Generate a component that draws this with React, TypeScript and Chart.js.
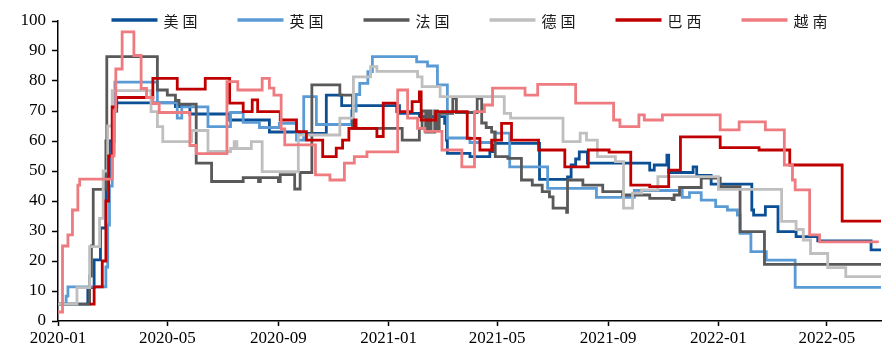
import React, { useEffect, useRef } from 'react';
import { Chart, registerables } from 'chart.js';

Chart.register(...registerables);

type Step = [string, number];

// Series names and colours, in legend order
const seriesNames = ['美国', '英国', '法国', '德国', '巴西', '越南'];
const seriesColors = ['#0B4F95', '#5B9BD5', '#595959', '#BFBFBF', '#C00000', '#EE7B7F'];

// X axis range and labelled months
const rangeStart = '2020-01-01';
const rangeEnd = '2022-06-30';
const tickMonths = ['2020-01', '2020-05', '2020-09', '2021-01', '2021-05', '2021-09', '2022-01', '2022-05'];

// Each entry: [date the index changes, new index value]
const usSteps: Step[] = [
  ['2020-01-01', 5.6], ['2020-02-03', 11.1], ['2020-02-10', 20.4], ['2020-02-17', 31], ['2020-02-23', 48],
  ['2020-02-27', 60], ['2020-03-03', 70], ['2020-03-06', 72.7], ['2020-05-10', 71.5], ['2020-05-26', 69],
  ['2020-07-09', 67], ['2020-08-22', 63], ['2020-09-24', 62.5], ['2020-10-24', 75.3], ['2020-11-10', 71.8],
  ['2021-01-13', 69.2], ['2021-02-04', 68.1], ['2021-03-04', 65.9], ['2021-03-06', 60.3], ['2021-03-07', 55.9],
  ['2021-04-01', 54.8], ['2021-04-23', 56.5], ['2021-04-28', 59.2], ['2021-06-17', 47.2], ['2021-07-18', 48],
  ['2021-07-22', 52], ['2021-07-27', 54], ['2021-07-31', 56.4], ['2021-08-09', 52.6], ['2021-10-17', 50.3],
  ['2021-10-22', 52], ['2021-11-05', 55.3], ['2021-11-07', 49.5], ['2021-12-04', 51.4], ['2021-12-08', 48.5],
  ['2021-12-24', 45.6], ['2022-02-07', 37], ['2022-02-09', 35.3], ['2022-02-22', 38.1], ['2022-03-08', 29.8],
  ['2022-03-28', 28.1], ['2022-04-21', 26.7], ['2022-06-19', 23.7], ['2022-06-30', 23.7],
];

const ukSteps: Step[] = [
  ['2020-01-01', 5.6], ['2020-01-10', 8.3], ['2020-01-12', 11.4], ['2020-02-23', 18], ['2020-02-25', 32],
  ['2020-02-27', 45], ['2020-03-01', 56], ['2020-03-03', 70], ['2020-03-04', 79.6], ['2020-04-20', 72.8],
  ['2020-05-12', 67.6], ['2020-05-17', 71.4], ['2020-06-15', 64.8], ['2020-07-10', 69.5], ['2020-07-24', 66.2],
  ['2020-08-11', 64.5], ['2020-09-02', 65.9], ['2020-09-21', 60.3], ['2020-09-29', 74.8], ['2020-10-13', 65.5],
  ['2020-11-21', 70], ['2020-11-26', 75.5], ['2020-11-30', 79.2], ['2020-12-09', 83.1], ['2020-12-14', 88.1],
  ['2021-02-01', 86.4], ['2021-02-13', 85], ['2021-02-24', 78.7], ['2021-03-07', 61], ['2021-04-01', 59.5],
  ['2021-04-28', 62.6], ['2021-05-15', 51.4], ['2021-06-26', 44.2], ['2021-08-19', 41.2], ['2021-09-30', 43.5],
  ['2021-11-22', 41.2], ['2021-11-30', 42.8], ['2021-12-13', 40.3], ['2021-12-29', 38.1], ['2022-01-11', 37],
  ['2022-01-22', 35.3], ['2022-01-25', 29.2], ['2022-02-06', 23.1], ['2022-02-23', 20.3], ['2022-03-27', 11.2],
  ['2022-06-30', 11.2],
];

const frSteps: Step[] = [
  ['2020-01-01', 5.6], ['2020-02-05', 15], ['2020-02-07', 25], ['2020-02-09', 43.9], ['2020-02-23', 60],
  ['2020-02-24', 88.1], ['2020-04-20', 77], ['2020-05-01', 75.3], ['2020-05-10', 73.5], ['2020-05-14', 72.3],
  ['2020-06-02', 52.6], ['2020-06-19', 46.5], ['2020-07-24', 47.8], ['2020-08-10', 46.5], ['2020-08-12', 47.8],
  ['2020-09-01', 46.5], ['2020-09-03', 48.8], ['2020-09-19', 44], ['2020-09-25', 49.5], ['2020-10-08', 78.7],
  ['2020-11-08', 75.3], ['2020-11-22', 64.2], ['2021-01-16', 60.3], ['2021-02-04', 64.2], ['2021-02-07', 70],
  ['2021-02-11', 63], ['2021-02-14', 70], ['2021-02-17', 63], ['2021-02-21', 70], ['2021-02-24', 63.5],
  ['2021-02-26', 69.2], ['2021-03-13', 74.2], ['2021-03-17', 69.5], ['2021-04-09', 74.2], ['2021-04-14', 66],
  ['2021-04-19', 64.5], ['2021-04-25', 63], ['2021-04-29', 54.8], ['2021-05-13', 54.2], ['2021-05-28', 47],
  ['2021-06-09', 45.3], ['2021-06-20', 43.1], ['2021-06-28', 41.4], ['2021-07-02', 37.6], ['2021-07-17', 36.2],
  ['2021-07-18', 47], ['2021-08-04', 45.3], ['2021-08-26', 43.1], ['2021-09-17', 42], ['2021-10-17', 40.9],
  ['2021-11-11', 40.5], ['2021-11-13', 42], ['2021-11-19', 44.5], ['2021-12-13', 47.6], ['2022-01-03', 44.8],
  ['2022-01-25', 29.8], ['2022-02-21', 18.9], ['2022-06-30', 18.9],
];

const deSteps: Step[] = [
  ['2020-01-01', 5.6], ['2020-01-22', 11.1], ['2020-02-05', 24.8], ['2020-02-16', 34.2], ['2020-02-20', 50],
  ['2020-02-25', 65], ['2020-03-01', 76.8], ['2020-04-13', 69.8], ['2020-04-20', 64.8], ['2020-04-26', 59.8],
  ['2020-05-28', 63.5], ['2020-06-15', 56.5], ['2020-07-10', 57.5], ['2020-07-14', 59.8], ['2020-07-17', 57.5],
  ['2020-08-02', 59.8], ['2020-08-14', 49.8], ['2020-09-23', 62], ['2020-11-08', 67.6], ['2020-11-23', 81.4],
  ['2020-12-12', 84.8], ['2020-12-19', 83.2], ['2021-02-02', 81.4], ['2021-02-07', 78.1], ['2021-02-27', 74.8],
  ['2021-05-09', 69.2], ['2021-05-16', 67.6], ['2021-07-13', 59.8], ['2021-08-01', 62.6], ['2021-08-08', 60.3],
  ['2021-08-20', 54.8], ['2021-09-09', 53.1], ['2021-09-18', 37.6], ['2021-09-28', 42.6], ['2021-10-08', 43.7],
  ['2021-10-26', 48.1], ['2022-01-01', 43.9], ['2022-03-12', 33.2], ['2022-03-28', 30.5], ['2022-04-05', 27],
  ['2022-04-13', 22.5], ['2022-05-02', 17.8], ['2022-05-22', 14.8], ['2022-06-30', 14.8],
];

const brSteps: Step[] = [
  ['2020-02-05', 5.6], ['2020-02-10', 11.4], ['2020-02-19', 20], ['2020-02-23', 40], ['2020-02-26', 55],
  ['2020-03-01', 71.4], ['2020-03-06', 74.5], ['2020-04-15', 80.9], ['2020-05-12', 77.3], ['2020-06-12', 80.9],
  ['2020-07-09', 72.6], ['2020-07-24', 69.8], ['2020-08-03', 73.7], ['2020-08-09', 69.8], ['2020-09-03', 67],
  ['2020-09-21', 63.1], ['2020-10-02', 60.3], ['2020-10-20', 54.8], ['2020-11-04', 57.6], ['2020-11-11', 60.3],
  ['2020-11-18', 64.2], ['2020-11-24', 67], ['2020-11-26', 64.2], ['2020-12-19', 61.5], ['2020-12-26', 72.6],
  ['2021-01-10', 69.8], ['2021-01-27', 73.1], ['2021-02-04', 76.4], ['2021-02-06', 67], ['2021-02-22', 69.8],
  ['2021-03-29', 60.9], ['2021-04-12', 57], ['2021-04-25', 60.3], ['2021-05-06', 65.9], ['2021-05-17', 60.3],
  ['2021-06-16', 57], ['2021-07-15', 51.4], ['2021-08-10', 57], ['2021-09-02', 56.3], ['2021-09-26', 45.3],
  ['2021-10-17', 44.8], ['2021-11-07', 50.3], ['2021-11-20', 61.4], ['2022-01-03', 57.8], ['2022-02-15', 57],
  ['2022-03-21', 52], ['2022-05-18', 33.3], ['2022-06-30', 33.3],
];

const vnSteps: Step[] = [
  ['2020-01-01', 3], ['2020-01-06', 25], ['2020-01-12', 28.7], ['2020-01-17', 37], ['2020-01-23', 45.3],
  ['2020-01-25', 47.3], ['2020-03-01', 55], ['2020-03-03', 70], ['2020-03-05', 84], ['2020-03-12', 96.4],
  ['2020-03-25', 88.5], ['2020-04-02', 77.5], ['2020-04-08', 74.5], ['2020-04-15', 72.5], ['2020-04-22', 69.5],
  ['2020-05-26', 58.5], ['2020-06-02', 55.8], ['2020-07-06', 79.8], ['2020-07-18', 77], ['2020-08-14', 80.9],
  ['2020-08-22', 77.6], ['2020-08-27', 75.3], ['2020-09-04', 64], ['2020-09-08', 58.7], ['2020-10-12', 48.7],
  ['2020-10-28', 47], ['2020-11-13', 52.6], ['2020-11-24', 54.8], ['2020-12-08', 56.4], ['2021-01-11', 77],
  ['2021-01-22', 67.6], ['2021-02-02', 64.2], ['2021-02-10', 63.2], ['2021-03-01', 57], ['2021-03-23', 51.4],
  ['2021-04-06', 69.8], ['2021-04-17', 72], ['2021-04-26', 77.6], ['2021-06-01', 75.3], ['2021-06-15', 78.9],
  ['2021-07-27', 72.6], ['2021-09-07', 67], ['2021-09-14', 64.8], ['2021-10-05', 68.7], ['2021-10-11', 67],
  ['2021-10-31', 68.7], ['2022-01-03', 63.7], ['2022-01-24', 66.4], ['2022-02-22', 63.7], ['2022-03-15', 52],
  ['2022-03-24', 47], ['2022-03-27', 43.7], ['2022-04-12', 28.7], ['2022-04-23', 26.4], ['2022-06-26', 26],
];

const allSteps = [usSteps, ukSteps, frSteps, deSteps, brSteps, vnSteps];

const dayIndex = (iso: string): number => {
  const [y, m, d] = iso.split('-').map(Number);
  const [y0, m0, d0] = rangeStart.split('-').map(Number);
  return Math.round((Date.UTC(y, m - 1, d) - Date.UTC(y0, m0 - 1, d0)) / 86400000);
};

const serifFont = '"Times New Roman", "Liberation Serif", serif';

// Legend drawn across the top of the plot area
const topLegend = {
  id: 'topLegend',
  afterDraw(chart: any) {
    const { ctx, chartArea } = chart;
    const lineLen = 46;
    const textGap = 6;
    const itemGap = 40;
    const charGap = 4;
    const y = 20;
    ctx.save();
    ctx.font = '15px "Noto Sans CJK SC"';
    ctx.textBaseline = 'middle';
    const textWidth = (s: string) =>
      Array.from(s).reduce((w, c) => w + ctx.measureText(c).width, 0) + charGap * (Array.from(s).length - 1);
    const widths = seriesNames.map((n) => lineLen + textGap + textWidth(n));
    const total = widths.reduce((a, b) => a + b, 0) + itemGap * (seriesNames.length - 1);
    let x = (chartArea.left + chartArea.right) / 2 - total / 2;
    seriesNames.forEach((name, i) => {
      ctx.strokeStyle = seriesColors[i];
      ctx.lineWidth = 3.5;
      ctx.beginPath();
      ctx.moveTo(x, y);
      ctx.lineTo(x + lineLen, y);
      ctx.stroke();
      let tx = x + lineLen + textGap;
      ctx.fillStyle = '#1a1a1a';
      for (const c of Array.from(name)) {
        ctx.fillText(c, tx, y + 1);
        tx += ctx.measureText(c).width + charGap;
      }
      x += widths[i] + itemGap;
    });
    ctx.restore();
  },
};

export default function App() {
  const canvasRef = useRef<HTMLCanvasElement | null>(null);

  useEffect(() => {
    document.body.style.margin = '0';
    const canvas = canvasRef.current;
    if (!canvas) return;

    const tickValues = tickMonths.map((m) => dayIndex(m + '-01'));
    const tickLabel = new Map<number, string>(tickValues.map((v, i) => [v, tickMonths[i]]));

    const chart = new Chart(canvas, {
      type: 'line',
      data: {
        datasets: allSteps.map((steps, i) => ({
          label: seriesNames[i],
          data: steps.map(([d, v]) => ({ x: dayIndex(d), y: v })),
          borderColor: seriesColors[i],
          backgroundColor: seriesColors[i],
          borderWidth: 2.8,
          stepped: true,
          pointRadius: 0,
          fill: false,
          order: allSteps.length - i,
        })),
      },
      options: {
        animation: false,
        responsive: false,
        devicePixelRatio: 1,
        layout: { padding: { top: 21, right: 2, left: 0, bottom: 0 } },
        plugins: { legend: { display: false }, tooltip: { enabled: false } },
        scales: {
          x: {
            type: 'linear',
            min: 0,
            max: dayIndex(rangeEnd),
            afterBuildTicks: (scale: any) => {
              scale.ticks = tickValues.map((v) => ({ value: v }));
            },
            afterFit: (scale: any) => {
              scale.height = 29;
            },
            ticks: {
              autoSkip: false,
              maxRotation: 0,
              padding: 2,
              color: '#000',
              font: { family: serifFont, size: 17 },
              callback: (v: any) => tickLabel.get(Number(v)) ?? '',
            },
            grid: { drawOnChartArea: false, drawTicks: true, tickLength: 5, tickColor: '#000', tickWidth: 1.5 },
            border: { display: true, color: '#000', width: 1.5 },
          },
          y: {
            min: 0,
            max: 100,
            afterFit: (scale: any) => {
              scale.width = 58;
            },
            ticks: {
              stepSize: 10,
              padding: 6,
              color: '#000',
              font: { family: serifFont, size: 17 },
            },
            grid: { drawOnChartArea: false, drawTicks: true, tickLength: 6, tickColor: '#000', tickWidth: 1.5 },
            border: { display: true, color: '#000', width: 1.5 },
          },
        },
      },
      plugins: [topLegend],
    });

    return () => chart.destroy();
  }, []);

  return (
    <div style={{ width: 883, height: 350 }}>
      <canvas ref={canvasRef} width={883} height={350} style={{ display: 'block' }} />
    </div>
  );
}
